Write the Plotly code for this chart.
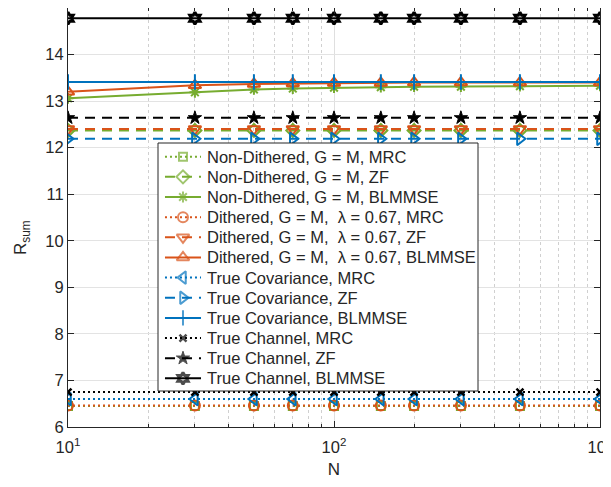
import plotly.graph_objects as go

N = [10, 30, 50, 70, 100, 150, 200, 300, 500, 1000]

nd_mrc = [6.45, 6.45, 6.45, 6.45, 6.45, 6.45, 6.45, 6.45, 6.45, 6.45]
nd_zf = [12.37, 12.37, 12.37, 12.37, 12.37, 12.37, 12.37, 12.37, 12.37, 12.37]
nd_bl = [13.06, 13.19, 13.25, 13.27, 13.29, 13.30, 13.31, 13.31, 13.32, 13.33]
d_mrc = [6.46, 6.46, 6.46, 6.46, 6.46, 6.46, 6.46, 6.46, 6.46, 6.46]
d_zf = [12.40, 12.40, 12.40, 12.40, 12.40, 12.40, 12.40, 12.40, 12.40, 12.40]
d_bl = [13.20, 13.34, 13.37, 13.38, 13.39, 13.39, 13.40, 13.40, 13.40, 13.40]
tc_mrc = [6.60, 6.60, 6.60, 6.60, 6.60, 6.60, 6.60, 6.60, 6.60, 6.60]
tc_zf = [12.19, 12.19, 12.19, 12.19, 12.19, 12.19, 12.19, 12.19, 12.19, 12.19]
tc_bl = [13.41, 13.41, 13.41, 13.41, 13.41, 13.41, 13.41, 13.41, 13.41, 13.41]
ch_mrc = [6.75, 6.75, 6.75, 6.75, 6.75, 6.75, 6.75, 6.75, 6.75, 6.75]
ch_zf = [12.64, 12.64, 12.64, 12.64, 12.64, 12.64, 12.64, 12.64, 12.64, 12.64]
ch_bl = [14.78, 14.78, 14.78, 14.78, 14.78, 14.78, 14.78, 14.78, 14.78, 14.78]

x_ticks = [10, 100, 1000]
x_tick_text = ["10<sup>1</sup>", "10<sup>2</sup>", "10<sup>3</sup>"]
x_minor = [20, 30, 40, 50, 60, 70, 80, 90, 200, 300, 400, 500, 600, 700, 800, 900]

GREEN = "#77AC30"
ORANGE = "#D95319"
BLUE = "#0072BD"
BLACK = "#000000"
DOT = "2px,3px"
DASH = "10px,7px"

# name, values, colour, dash, symbol, size, marker line width
series = [
    ("Non-Dithered, G = M, MRC", nd_mrc, GREEN, DOT, "square-open", 8, 2),
    ("Non-Dithered, G = M, ZF", nd_zf, GREEN, DASH, "diamond-open", 10, 2),
    ("Non-Dithered, G = M, BLMMSE", nd_bl, GREEN, "solid", "asterisk-open", 9, 2),
    ("Dithered, G = M,  \u03bb = 0.67, MRC", d_mrc, ORANGE, DOT, "circle-open", 10, 2),
    ("Dithered, G = M,  \u03bb = 0.67, ZF", d_zf, ORANGE, DASH, "triangle-down-open", 11, 2),
    ("Dithered, G = M,  \u03bb = 0.67, BLMMSE", d_bl, ORANGE, "solid", "triangle-up-open", 11, 2),
    ("True Covariance, MRC", tc_mrc, BLUE, DOT, "triangle-left-open", 11, 2),
    ("True Covariance, ZF", tc_zf, BLUE, DASH, "triangle-right-open", 11, 2),
    ("True Covariance, BLMMSE", tc_bl, BLUE, "solid", "cross-thin-open", 11, 2),
    ("True Channel, MRC", ch_mrc, BLACK, DOT, "x-thin-open", 7, 2.5),
    ("True Channel, ZF", ch_zf, BLACK, DASH, "star", 10, 1),
    ("True Channel, BLMMSE", ch_bl, BLACK, "solid", "hexagram-open", 9, 3),
]

fig = go.Figure()
for name, y, c, dash, sym, sz, mlw in series:
    fig.add_trace(go.Scatter(
        x=N, y=y, name=name, mode="lines+markers", showlegend=False,
        line=dict(color=c, width=2, dash=dash),
        marker=dict(symbol=sym, size=sz, color=c, line=dict(color=c, width=mlw)),
    ))

# ---- hand-built legend on an overlay subplot (0..1 axes over the plot area) ----
axcol = "#262626"
LEG_X0, LEG_X1, LEG_Y0, LEG_Y1 = 0.1692, 0.7707, 0.0859, 0.6778
fig.add_trace(go.Scatter(
    x=[LEG_X0, LEG_X1, LEG_X1, LEG_X0, LEG_X0],
    y=[LEG_Y0, LEG_Y0, LEG_Y1, LEG_Y1, LEG_Y0],
    xaxis="x2", yaxis="y2", mode="lines", fill="toself",
    fillcolor="white", line=dict(color=axcol, width=1),
    showlegend=False, hoverinfo="skip",
))
SX0, SX1, TX = 0.1823, 0.2500, 0.2566
annotations = []
for i, (name, y, c, dash, sym, sz, mlw) in enumerate(series):
    p = 156.7 + 20.15 * i - 8
    ry = (419 - p) / 419
    fig.add_trace(go.Scatter(
        x=[SX0, (SX0 + SX1) / 2, SX1], y=[ry, ry, ry],
        xaxis="x2", yaxis="y2", mode="lines+markers", showlegend=False,
        line=dict(color=c, width=2, dash=dash),
        marker=dict(symbol=sym, size=[0, sz, 0], color=c, line=dict(color=c, width=mlw)),
        hoverinfo="skip",
    ))
    annotations.append(dict(
        x=TX, y=ry, xref="paper", yref="paper", text=name, showarrow=False,
        xanchor="left", yanchor="middle", font=dict(size=16.5, color=axcol),
    ))

annotations.append(dict(
    x=-0.0865, y=0.4535, xref="paper", yref="paper", text="R<sub>sum</sub>",
    showarrow=False, textangle=-90, xanchor="center", yanchor="middle",
    font=dict(size=17, color=axcol),
))

fig.update_layout(
    width=611, height=487,
    margin=dict(l=60, r=19, t=0, b=68),
    paper_bgcolor="white", plot_bgcolor="white",
    font=dict(family="Liberation Sans, Arial, sans-serif", size=16.5, color=axcol),
    showlegend=False,
    annotations=annotations,
    xaxis=dict(
        type="log", range=[1, 3],
        tickvals=x_ticks, ticktext=x_tick_text,
        showline=True, linecolor=axcol, linewidth=1, mirror="ticks",
        ticks="inside", ticklen=6, tickcolor=axcol, ticklabelstandoff=5,
        showgrid=True, gridcolor="#dfdfdf", gridwidth=1,
        minor=dict(tickvals=x_minor, ticks="inside", ticklen=3, tickcolor=axcol,
                   showgrid=True, gridcolor="#d0d0d0", griddash="dot", gridwidth=1),
        title=dict(text="N", standoff=8, font=dict(size=17)),
        zeroline=False, automargin=False,
    ),
    yaxis=dict(
        range=[6, 15], dtick=1,
        showline=True, linecolor=axcol, linewidth=1, mirror="ticks",
        ticks="inside", ticklen=6, tickcolor=axcol,
        showgrid=True, gridcolor="#e3e3e3", gridwidth=1,
        zeroline=False, automargin=False,
    ),
    xaxis2=dict(overlaying="x", range=[0, 1], visible=False, fixedrange=True),
    yaxis2=dict(overlaying="y", range=[0, 1], visible=False, fixedrange=True),
)

fig.write_html("out.html")
